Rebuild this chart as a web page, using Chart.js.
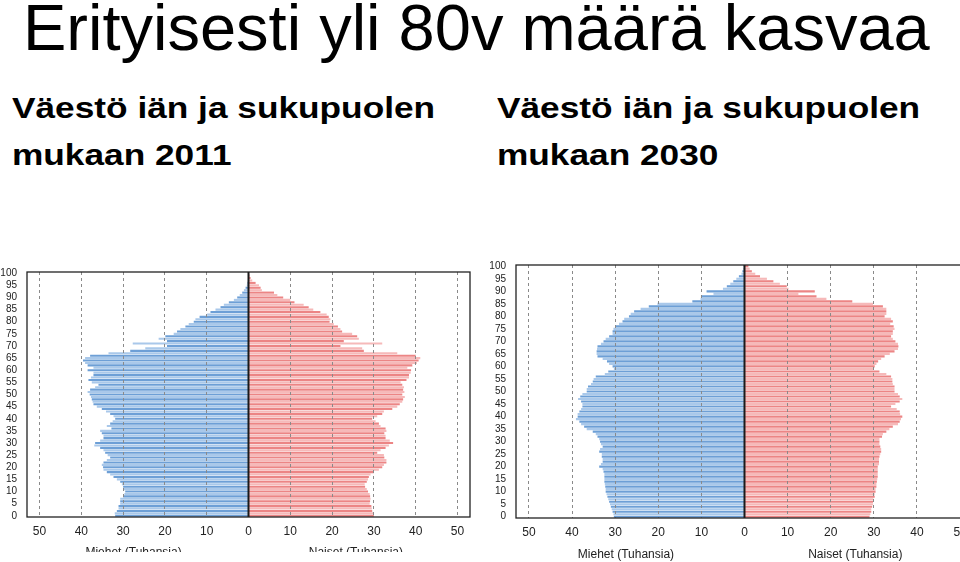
<!DOCTYPE html>
<html><head><meta charset="utf-8">
<script src="https://cdn.jsdelivr.net/npm/chart.js@4"></script>
<style>
html,body{margin:0;padding:0;width:960px;height:562px;overflow:hidden;background:#fff;}
.t{position:absolute;white-space:nowrap;color:#000;font-family:"Liberation Sans",Arial,sans-serif;line-height:1;}
#title{left:23px;top:-5px;font-size:65px;}
.sub{font-size:30px;font-weight:bold;transform:scaleX(1.175);transform-origin:0 0;}
canvas{position:absolute;}
</style></head><body>
<div class="t" id="title">Erityisesti yli 80v määrä kasvaa</div>
<div class="t sub" style="left:12px;top:92.6px">Väestö iän ja sukupuolen</div>
<div class="t sub" style="left:12px;top:140.3px">mukaan 2011</div>
<div class="t sub" style="left:497px;top:92.6px">Väestö iän ja sukupuolen</div>
<div class="t sub" style="left:497px;top:140.3px">mukaan 2030</div>
<canvas id="c1" width="480" height="297" style="left:0;top:255px"></canvas>
<canvas id="c2" width="520" height="314" style="left:480px;top:248px"></canvas>
<script>
// Categories: age 0..100
const ageLabels = [0,1,2,3,4,5,6,7,8,9,10,11,12,13,14,15,16,17,18,19,20,21,22,23,24,25,26,27,28,29,30,31,32,33,34,35,36,37,38,39,40,41,42,43,44,45,46,47,48,49,50,51,52,53,54,55,56,57,58,59,60,61,62,63,64,65,66,67,68,69,70,71,72,73,74,75,76,77,78,79,80,81,82,83,84,85,86,87,88,89,90,91,92,93,94,95,96,97,98,99,100];
// X tick values (thousands; men shown on the negative side)
const xTickValues = [-50,-40,-30,-20,-10,0,10,20,30,40,50];
const menTitle = "Miehet (Tuhansia)";
const womenTitle = "Naiset (Tuhansia)";

// 2011, thousands, by age 0..100
const men2011 = [31.9,32.0,31.5,31.1,31.1,30.7,30.7,30.7,30.0,29.7,
 29.5,29.9,30.0,30.3,30.7,31.5,32.3,33.1,33.9,34.7,
 34.8,35.1,34.7,33.9,33.1,33.7,34.3,34.7,35.5,36.9,
 36.7,35.5,34.7,34.7,35.1,35.5,32.8,33.9,33.1,32.5,
 31.9,32.3,33.1,34.1,35.1,36.3,37.1,37.3,37.5,37.7,
 38.0,38.5,37.9,36.7,35.9,37.5,38.3,37.7,37.1,37.1,
 38.5,37.1,38.5,39.1,39.6,39.1,37.9,33.5,28.3,24.7,
 19.5,27.7,19.5,21.5,19.9,17.9,17.1,16.3,15.1,14.3,
 13.1,12.7,11.7,9.9,9.1,7.9,6.7,5.9,4.7,3.5,
 2.7,2.1,1.5,1.1,0.7,0.4,0.25,0.15,0.1,0.05,0.03];
const women2011 = [30.0,29.9,29.6,29.5,29.4,29.0,29.1,29.2,29.1,29.0,
 28.6,28.3,27.9,27.8,28.3,28.6,28.8,29.2,30.0,31.2,
 32.0,32.4,33.0,33.0,32.5,32.4,30.8,31.6,32.8,33.6,
 34.6,33.8,32.8,32.8,32.5,33.0,32.8,31.6,31.2,30.4,
 29.6,30.8,32.0,32.4,34.4,35.6,36.2,36.8,37.0,37.4,
 36.8,37.3,37.0,37.2,36.8,36.4,37.8,38.4,38.4,38.8,
 38.9,38.0,39.2,40.3,40.7,41.1,40.0,35.6,27.6,27.2,
 22.0,32.0,22.8,26.4,26.0,24.8,22.4,22.0,21.4,20.4,
 19.4,19.6,19.2,18.7,17.2,15.5,14.4,13.2,11.0,10.0,
 8.3,6.9,6.1,3.2,2.9,2.5,1.7,0.9,0.5,0.3,0.1];

// 2030 projection, thousands, by age 0..100
const men2030 = [30.3,30.4,30.6,30.8,31.0,31.2,31.4,31.6,31.8,32.0,
 32.2,32.2,32.3,32.4,32.5,32.5,32.5,32.5,32.7,32.9,
 33.7,33.3,32.9,32.9,33.1,33.1,33.7,33.5,32.9,33.3,
 33.5,33.7,34.1,34.5,35.2,36.6,37.2,37.9,38.3,39.1,
 38.7,38.7,38.3,37.9,37.6,37.6,37.9,38.6,38.1,37.6,
 36.6,36.6,36.3,35.6,35.2,35.0,34.5,32.4,31.6,30.3,
 30.6,31.4,31.9,32.9,34.1,34.3,34.3,34.2,34.1,33.3,
 32.7,32.2,31.4,30.6,30.6,30.4,29.9,29.1,28.3,27.9,
 26.8,26.4,25.6,24.1,22.2,20.2,12.1,10.2,10.1,7.2,
 8.8,5.0,4.1,3.3,2.6,1.9,1.3,0.7,0.5,0.3,0.2];
const women2030 = [29.0,29.2,29.4,29.4,29.6,29.8,29.8,29.9,30.2,30.2,
 30.4,30.4,30.6,30.6,30.7,30.8,30.9,30.9,30.9,30.9,
 30.9,31.2,31.2,31.2,31.3,31.5,31.7,31.7,31.5,31.3,
 31.3,31.3,31.9,32.1,32.9,33.6,34.4,35.6,36.0,36.3,
 36.6,36.1,36.0,35.3,34.0,35.0,36.0,36.6,36.0,35.6,
 34.8,34.8,34.8,34.4,34.3,34.3,34.0,32.9,31.3,29.8,
 30.2,30.6,31.0,31.7,32.5,33.7,34.8,35.6,35.7,35.6,
 35.0,34.4,34.0,34.4,34.4,34.8,34.6,33.8,34.4,34.0,
 32.5,32.9,32.9,32.9,32.1,29.8,25.0,19.0,16.7,12.5,
 16.3,10.2,9.8,8.2,6.7,5.2,3.6,2.5,1.7,1.2,0.9];

const FONT = '"Liberation Sans", Arial, sans-serif';
const MEN_DARK = '#6d9fd6', MEN_LIGHT = '#a9c8ea';
const WOMEN_DARK = '#ec8585', WOMEN_LIGHT = '#f6b9b9';

const framePlugin = {
  id: 'frame',
  afterDraw(chart, args, o) {
    const ctx = chart.ctx, a = chart.chartArea, x = chart.scales.x;
    ctx.save();
    const x0 = x.getPixelForValue(0);
    ctx.strokeStyle = '#1a1a1a';
    ctx.lineWidth = 2;
    ctx.beginPath(); ctx.moveTo(x0, a.top); ctx.lineTo(x0, a.bottom); ctx.stroke();
    ctx.lineWidth = 1.3;
    ctx.strokeStyle = '#222';
    ctx.strokeRect(a.left, a.top, a.right - a.left, a.bottom - a.top);
    ctx.fillStyle = '#222';
    ctx.font = '12px ' + FONT;
    ctx.textAlign = 'center';
    ctx.textBaseline = 'alphabetic';
    ctx.fillText(menTitle, x.getPixelForValue(-27.5), a.bottom + o.titleOffset);
    ctx.fillText(womenTitle, x.getPixelForValue(25.7), a.bottom + o.titleOffset);
    ctx.restore();
  }
};

function makeChart(id, men, women, g) {
  new Chart(document.getElementById(id), {
    type: 'bar',
    data: {
      labels: ageLabels,
      datasets: [
        { label: 'Miehet', data: men.map(v => -v),
          backgroundColor: c => (c.dataIndex % 2 ? MEN_LIGHT : MEN_DARK),
          barPercentage: 0.86, categoryPercentage: 1 },
        { label: 'Naiset', data: women,
          backgroundColor: c => (c.dataIndex % 2 ? WOMEN_LIGHT : WOMEN_DARK),
          barPercentage: 0.86, categoryPercentage: 1 }
      ]
    },
    options: {
      indexAxis: 'y',
      responsive: false,
      animation: false,
      devicePixelRatio: 1,
      layout: { padding: { left: 0, right: g.right, top: g.top, bottom: 0 } },
      plugins: { legend: { display: false }, tooltip: { enabled: false }, title: { display: false },
        frame: { titleOffset: g.titleOffset } },
      scales: {
        x: {
          type: 'linear', min: -53, max: 53, stacked: true,
          afterBuildTicks: s => { s.ticks = xTickValues.map(v => ({ value: v })); },
          afterFit: s => { s.height = g.xh; },
          grid: { z: 1, drawTicks: false, lineWidth: 1,
            color: c => (c.tick && c.tick.value === 0) ? 'rgba(0,0,0,0)' : '#8a8a8a' },
          border: { display: false, dash: [3, 3] },
          ticks: { padding: 7, color: '#222', font: { family: FONT, size: 12 },
            maxRotation: 0, autoSkip: false, callback: v => String(Math.abs(v)) }
        },
        y: {
          type: 'category', reverse: true, stacked: true,
          afterFit: s => { s.width = g.yw; },
          grid: { display: false, drawTicks: false },
          border: { display: false },
          ticks: { autoSkip: false, padding: 10, color: '#222', font: { family: FONT, size: 10 },
            callback: function (v) { const a = this.getLabelForValue(v); return a % 5 === 0 ? String(a) : ''; } }
        }
      }
    },
    plugins: [framePlugin]
  });
}

makeChart('c1', men2011, women2011, { right: 10, top: 17, xh: 35, yw: 27, titleOffset: 38.5 });
makeChart('c2', men2030, women2030, { right: 27, top: 17, xh: 44, yw: 36, titleOffset: 40 });
</script>
</body></html>
